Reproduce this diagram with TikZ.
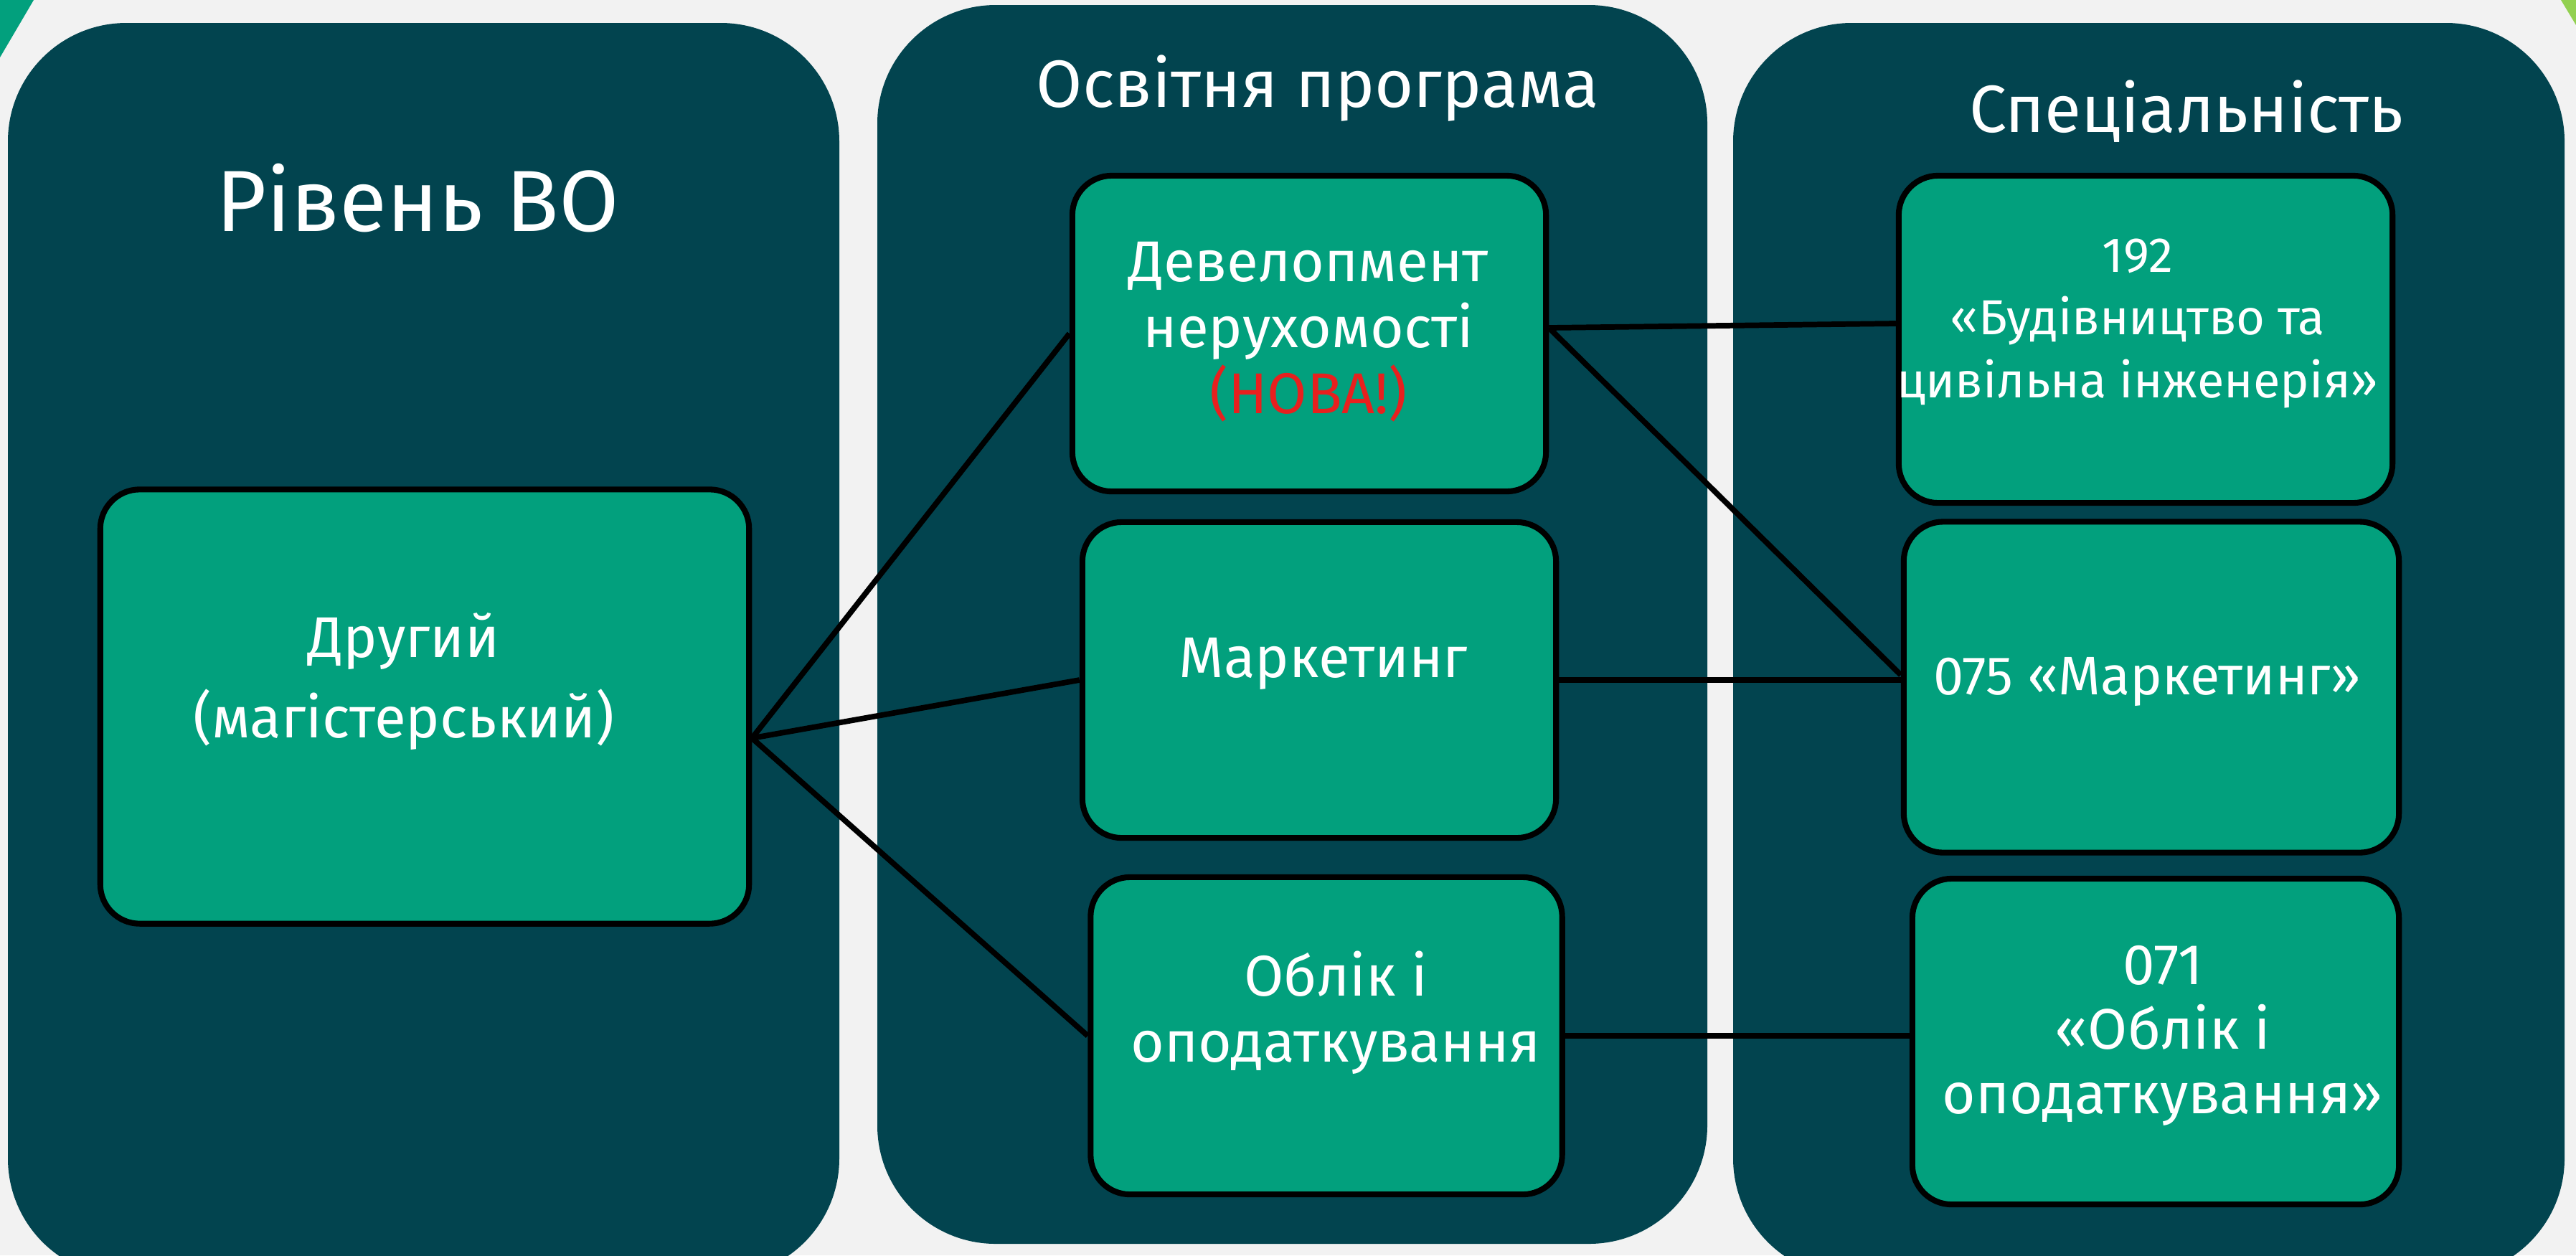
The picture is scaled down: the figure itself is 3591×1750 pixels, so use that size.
\documentclass[tikz,border=0pt]{standalone}
\usepackage{fontspec}
\setmainfont{Fira Sans}
\definecolor{bg}{HTML}{F2F2F2}
\definecolor{panel}{HTML}{02444F}
\definecolor{boxg}{HTML}{02A07D}
\definecolor{limeg}{HTML}{92D050}
\definecolor{newred}{HTML}{E8201E}
\begin{document}
\begin{tikzpicture}[x=0.01cm,y=-0.01cm,
  panelbox/.style={fill=panel, rounded corners=1.65cm},
  itembox/.style={draw=black, line width=2.3pt, fill=boxg, rounded corners=0.55cm, inner sep=0pt},
  link/.style={draw=black, line width=2.2pt},
  boxtext/.style={text=white, align=center, inner sep=0pt, font=\fontsize{22.8}{26.2}\selectfont},
  titletext/.style={text=white, inner sep=0pt, font=\fontsize{26.5}{32}\selectfont}]
\useasboundingbox (0,0) rectangle (3591,1750);
\clip (0,0) rectangle (3591,1750);
\fill[bg] (0,0) rectangle (3591,1750);
\fill[boxg] (0,0) -- (47,0) -- (0,80) -- cycle;
\fill[limeg] (3570,0) -- (3591,0) -- (3591,35) -- cycle;
% panels
\fill[panelbox] (11,32) rectangle (1170,1780);
\fill[panelbox] (1223,7) rectangle (2380,1734);
\fill[panelbox] (2416,32) rectangle (3575,1780);
% titles
\node[titletext, font=\fontsize{34.4}{40}\selectfont] (lvl) at (582,276) {Рівень ВО};
\node[titletext] (prog) at (1837,123) {Освітня програма};
\node[titletext] (spec) at (3048,155) {Спеціальність};
% boxes
\node[itembox, minimum width=9.04cm, minimum height=6.05cm] (drugyi) at (592,985) {};
\node[itembox, minimum width=6.6cm, minimum height=4.4cm] (devel) at (1825,465) {};
\node[itembox, minimum width=6.6cm, minimum height=4.4cm] (market) at (1839,948) {};
\node[itembox, minimum width=6.57cm, minimum height=4.42cm] (oblik) at (1849,1444) {};
\node[itembox, minimum width=6.88cm, minimum height=4.56cm] (sp192) at (2991,473) {};
\node[itembox, minimum width=6.9cm, minimum height=4.61cm] (sp075) at (2999,958) {};
\node[itembox, minimum width=6.78cm, minimum height=4.54cm] (sp071) at (3005,1452) {};
% texts
\node[boxtext, font=\fontsize{22.8}{32}\selectfont] (drugyitxt) at (563,950) {Другий\\(магістерський)};
\node[boxtext] (develtxt) at (1824,463) {Девелопмент\\нерухомості\\\textcolor{newred}{(НОВА!)}};
\node[boxtext] (markettxt) at (1845,925) {Маркетинг};
\node[boxtext] (oblitxt) at (1862,1412) {Облік і\\оподаткування};
\node[boxtext, font=\fontsize{19.5}{25}\selectfont] (sp192txt) at (2980,451) {192\\«Будівництво та\\цивільна інженерія»};
\node[boxtext, font=\fontsize{21.5}{26}\selectfont] (sp075txt) at (2993,950) {075 «Маркетинг»};
\node[boxtext, font=\fontsize{22.7}{25.6}\selectfont] (sp071txt) at (3015,1444) {071\\«Облік і\\оподаткування»};
% connectors
\coordinate (hub) at ([yshift=-0.44cm]drugyi.east);
\coordinate (devout) at ([yshift=0.08cm]devel.east);
\draw[link] (hub) -- (devel.west);
\draw[link] (hub) -- (market.west);
\draw[link] (hub) -- (oblik.west);
\draw[link] (devout) -- ([yshift=0.22cm]sp192.west);
\draw[link] (devout) -- ([yshift=0.17cm]sp075.west);
\draw[link] (market.east) -- (market.east -| sp075.west);
\draw[link] (oblik.east) -- (oblik.east -| sp071.west);
\end{tikzpicture}
\end{document}
